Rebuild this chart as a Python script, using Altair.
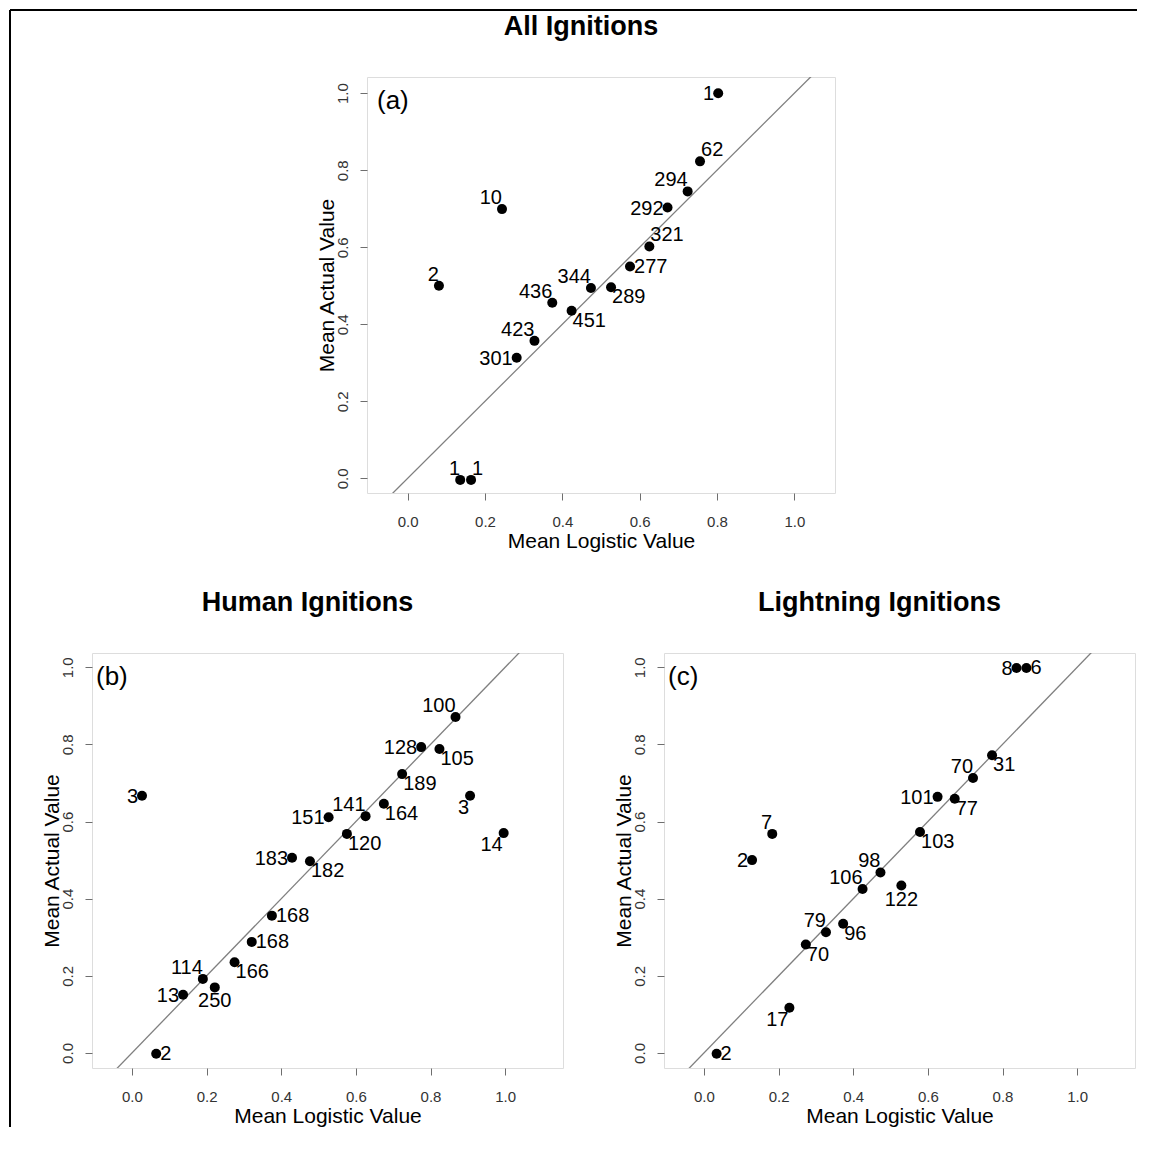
import altair as alt
import pandas as pd

FONT = "Liberation Sans"

# ---------------- data ----------------
# (a) All Ignitions
a_x = [0.803, 0.756, 0.724, 0.672, 0.625, 0.575, 0.526, 0.474, 0.424, 0.374, 0.328, 0.282, 0.244, 0.081, 0.136, 0.164]
a_y = [1.000, 0.823, 0.745, 0.703, 0.602, 0.550, 0.496, 0.494, 0.435, 0.456, 0.357, 0.313, 0.699, 0.500, -0.004, -0.004]
a_lab = ["1", "62", "294", "292", "321", "277", "289", "344", "451", "436", "423", "301", "10", "2", "1", "1"]
a_pos = ["L", "UR", "UL", "L", "UR", "R", "DR", "UL", "DR", "UL", "UL", "L", "UL", "UL", "UL", "UR"]

# (b) Human Ignitions
b_x = [0.867, 0.775, 0.824, 0.724, 0.906, 0.996, 0.027, 0.675, 0.626, 0.527, 0.576, 0.429, 0.477, 0.375, 0.321, 0.275, 0.190, 0.137, 0.222, 0.065]
b_y = [0.871, 0.793, 0.788, 0.723, 0.667, 0.570, 0.667, 0.646, 0.614, 0.611, 0.568, 0.506, 0.497, 0.356, 0.288, 0.235, 0.192, 0.151, 0.170, -0.002]
b_lab = ["100", "128", "105", "189", "3", "14", "3", "164", "141", "151", "120", "183", "182", "168", "168", "166", "114", "13", "250", "2"]
b_pos = ["UL", "L", "DR", "DR", "DL", "DL", "L", "DR", "UL", "L", "DR", "L", "DR", "R", "R", "DR", "UL", "L", "D", "R"]

# (c) Lightning Ignitions
c_x = [0.8375, 0.864, 0.772, 0.721, 0.626, 0.672, 0.579, 0.473, 0.425, 0.529, 0.327, 0.373, 0.273, 0.229, 0.183, 0.129, 0.034]
c_y = [0.998, 0.998, 0.772, 0.713, 0.664, 0.659, 0.573, 0.468, 0.425, 0.434, 0.313, 0.335, 0.281, 0.117, 0.568, 0.500, -0.002]
c_lab = ["8", "6", "31", "70", "101", "77", "103", "98", "106", "122", "79", "96", "70", "17", "7", "2", "2"]
c_pos = ["L", "R", "DR", "UL", "L", "DR", "DR", "UL", "UL", "D", "UL", "DR", "DR", "DL", "UL", "L", "R"]

ticks = [0.0, 0.2, 0.4, 0.6, 0.8, 1.0]
diag = [-0.2, 1.2]  # y = x reference line

# label placement codes -> (align, dx, dy)
PLACE = {
    "L": ("right", -4, 1),
    "R": ("left", 4, 0),
    "UL": ("right", 0, -11),
    "UR": ("left", 1, -11),
    "DL": ("right", -1, 12),
    "DR": ("left", 1, 10),
    "D": ("center", 0, 14),
}


def panel(xs, ys, labs, poss, title, tag, xdom, ydom, w, h, tagx):
    df = pd.DataFrame({"x": xs, "y": ys, "lab": labs, "pos": poss})
    xs_ = alt.Scale(domain=xdom, nice=False, zero=False)
    ys_ = alt.Scale(domain=ydom, nice=False, zero=False)
    xaxis = alt.Axis(values=ticks, format=".1f", grid=False, domain=False,
                     tickSize=7, tickColor="#6e6e6e", labelFontSize=15,
                     labelColor="#333333", labelPadding=14, labelFont=FONT,
                     title="Mean Logistic Value", titleFontSize=21,
                     titleFontWeight="normal", titleFont=FONT, titleColor="black",
                     titleY=54, titleBaseline="alphabetic")
    yaxis = alt.Axis(values=ticks, format=".1f", grid=False, domain=False,
                     tickSize=7, tickColor="#6e6e6e", labelFontSize=15,
                     labelColor="#333333", labelPadding=13, labelFont=FONT,
                     labelAngle=270, labelAlign="center", labelBaseline="alphabetic",
                     title="Mean Actual Value", titleFontSize=21,
                     titleFontWeight="normal", titleFont=FONT, titleColor="black",
                     titleX=-34, titleBaseline="alphabetic")
    X = lambda f: alt.X(f, scale=xs_, axis=xaxis)
    Y = lambda f: alt.Y(f, scale=ys_, axis=yaxis)

    line = alt.Chart(pd.DataFrame({"x": diag, "y": diag})).mark_line(
        clip=True, color="#7f7f7f", strokeWidth=1.3
    ).encode(x=X("x:Q"), y=Y("y:Q"))
    pts = alt.Chart(df).mark_circle(size=100, color="black", opacity=1).encode(
        x=X("x:Q"), y=Y("y:Q"))
    layers = [line, pts]
    for code, (al, dx, dy) in PLACE.items():
        if code not in poss:
            continue
        layers.append(
            alt.Chart(df).transform_filter(alt.datum.pos == code).mark_text(
                align=al, baseline="middle", dx=dx, dy=dy, fontSize=20,
                font=FONT, color="black"
            ).encode(x=X("x:Q"), y=Y("y:Q"), text="lab:N")
        )
    layers.append(
        alt.Chart(pd.DataFrame({"t": [tag]})).mark_text(
            align="left", baseline="middle", fontSize=26, font=FONT, color="black"
        ).encode(x=alt.value(tagx), y=alt.value(24), text="t:N")
    )
    return alt.layer(*layers).properties(
        width=w, height=h,
        title=alt.TitleParams(title, fontSize=27, fontWeight="bold", font=FONT,
                              color="black", anchor="middle", frame="group",
                              baseline="alphabetic", offset=15, dx=-20),
    )


pa = panel(a_x, a_y, a_lab, a_pos, "All Ignitions", "(a)",
           [-0.105, 1.105], [-0.038, 1.042], 468, 416, 10)
pb = panel(b_x, b_y, b_lab, b_pos, "Human Ignitions", "(b)",
           [-0.107, 1.155], [-0.039, 1.037], 471, 415, 4)
pc = panel(c_x, c_y, c_lab, c_pos, "Lightning Ignitions", "(c)",
           [-0.107, 1.155], [-0.039, 1.037], 471, 415, 4)

one = pd.DataFrame({"k": [0]})
frame_v = alt.Chart(one).mark_rule(color="black", strokeWidth=2).encode(
    x=alt.value(-82), y=alt.value(-67), y2=alt.value(1050))
frame_h = alt.Chart(one).mark_rule(color="black", strokeWidth=2).encode(
    x=alt.value(-82), x2=alt.value(1045), y=alt.value(-67))
spacer = alt.layer(frame_v, frame_h).properties(
    width=275, height=416, view=alt.ViewBackground(stroke="transparent"))

row0 = alt.hconcat(spacer, pa, spacing=0, bounds="flush")
row1 = alt.hconcat(pb, pc, spacing=101, bounds="flush")

# nested rows count as zero-height in flush layout, so spacing = row0 height + gap
chart = alt.vconcat(
    row0, row1, spacing=576, bounds="flush", padding=0,
).configure_view(stroke="#8c8c8c", strokeWidth=1).configure(font=FONT, background="white")

chart.save("out.html", embed_options={"renderer": "svg", "actions": False})
